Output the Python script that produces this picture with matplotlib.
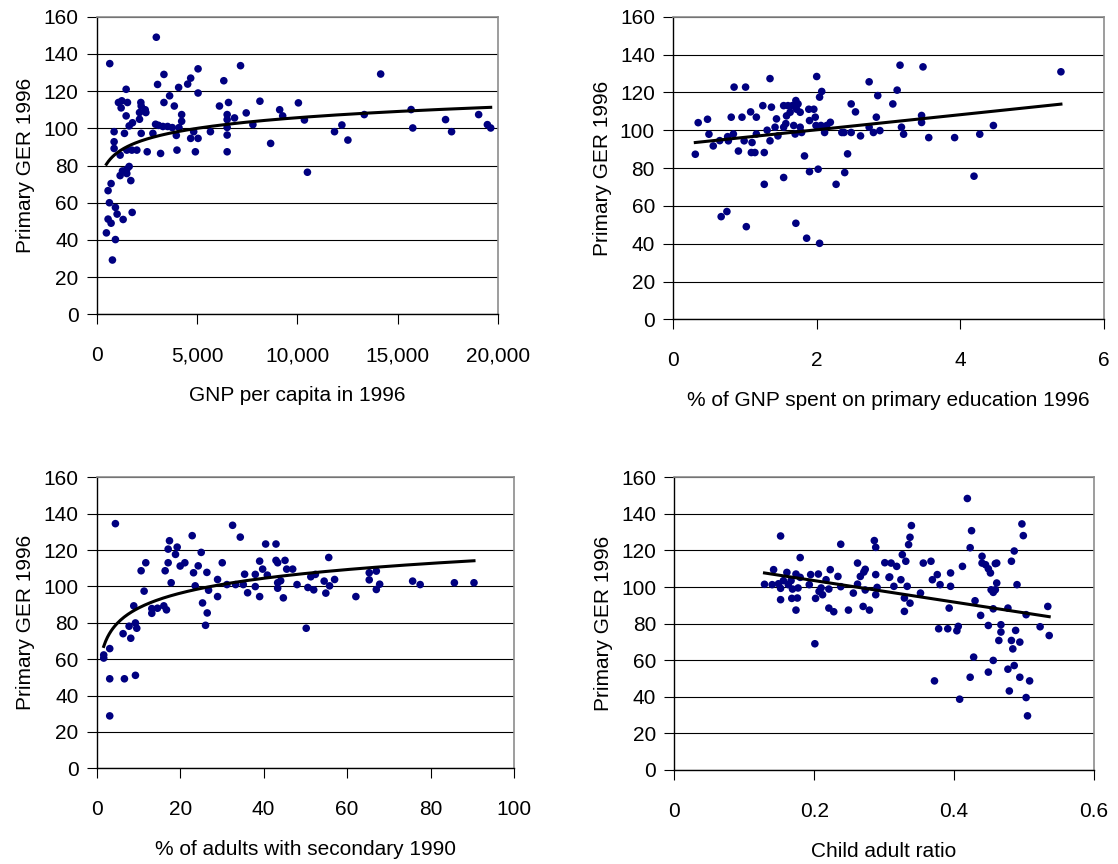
import numpy as np
import matplotlib
matplotlib.use("Agg")
from matplotlib import pyplot as plt
from matplotlib.ticker import FuncFormatter

plt.rcParams['font.family'] = ['Liberation Sans', 'DejaVu Sans']

# GNP per capita 1996 vs primary GER 1996
gnp_x = [2970, 650, 7167, 3350, 5050, 4683, 6333, 4533, 3033, 1467, 4083, 5050, 3633,
         1083, 1250, 1533, 2200, 3350, 3867, 1217, 6117, 6567, 8133, 9117, 10050, 2217,
         2417, 2133, 2450, 2133, 1467, 1783, 1617, 4233, 4233, 6500, 6500, 6867, 7450,
         9267, 7783, 2933, 3083, 3300, 3533, 3767, 3967, 4100, 4683, 5050, 4833, 5667,
         6500, 6500, 8667, 867, 1383, 2217, 2800, 867, 867, 1167, 1500, 1750, 2000, 2517,
         3183, 4000, 4917, 6500, 1167, 1283, 1500, 1617, 1500, 1700, 717, 567, 633, 933,
         1017, 1767, 1317, 567, 717, 483, 933, 783, 10350, 10500, 11850, 12217, 12517,
         13333, 14150, 15667, 15750, 17383, 17683, 19033, 19467, 19633]
gnp_y = [149, 134.8, 133.7, 129, 132, 127, 125.6, 123.8, 123.6, 121, 122, 119, 117.5,
         113.9, 114.8, 113.9, 113.9, 113.9, 112, 111, 112, 113.9, 114.6, 110, 113.7, 112,
         110, 108.5, 108.5, 104.9, 106.7, 103, 101.3, 107.4, 103.8, 107.4, 104.7, 105.6, 108.3,
         106.7, 102, 102.2, 101.6, 101, 101, 100.4, 96.2, 100.4, 94.6, 94.6, 98.2, 98.2,
         100.5, 96.4, 91.9, 98.2, 97.3, 97.3, 97.3, 92.8, 89.2, 85.6, 88.3, 88.3, 88.3, 87.4,
         86.5, 88.3, 87.4, 87.4, 74.6, 77.1, 78, 79.5, 75.7, 71.9, 70.3, 66.5, 60, 57.5,
         53.9, 54.8, 51, 51.2, 49, 43.8, 40.2, 29.2, 104.5, 76.4, 98.2, 101.8, 93.7,
         107.4, 129.2, 110.1, 100.2, 104.7, 98.2, 107.4, 102, 100.2]
gnp_trend = [80.7, 111.3]   # trendline value at first / last x

# % of GNP spent on primary education 1996
spend_x = [0.31, 0.35, 0.48, 0.50, 0.56, 0.65, 0.67, 0.75, 0.76, 0.77, 0.81, 0.84, 0.85,
           0.91, 0.96, 0.99, 1.01, 1.02, 1.08, 1.10, 1.09, 1.14, 1.16, 1.16, 1.25, 1.27,
           1.27, 1.31, 1.35, 1.35, 1.37, 1.42, 1.44, 1.46, 1.54, 1.54, 1.54, 1.57, 1.58,
           1.60, 1.63, 1.66, 1.68, 1.70, 1.71, 1.71, 1.72, 1.74, 1.77, 1.77, 1.79, 1.83,
           1.86, 1.89, 1.90, 1.90, 1.96, 1.98, 1.99, 2.00, 2.02, 2.04, 2.04, 2.07, 2.06,
           2.11, 2.14, 2.19, 2.27, 2.35, 2.38, 2.39, 2.43, 2.48, 2.48, 2.54, 2.61, 2.73,
           2.73, 2.79, 2.83, 2.85, 2.88, 3.06, 3.12, 3.16, 3.18, 3.21, 3.46, 3.46, 3.48,
           3.56, 3.92, 4.19, 4.27, 4.46, 5.40]
spend_y = [87.3, 104, 105.8, 97.9, 91.7, 94.5, 54.3, 57, 96.6, 94.4, 106.9, 98, 122.8,
           89, 106.9, 94.4, 122.8, 49, 109.7, 93.5, 88.2, 88.2, 106.9, 98, 113, 88.2,
           71.4, 100, 127.3, 94.4, 112.2, 101.6, 106, 97, 113, 101.6, 75, 103.5, 107.6,
           113, 109.5, 113, 102.5, 98, 50.8, 115.7, 111.1, 113.9, 109.5, 101.6, 98.8, 86.4,
           42.9, 111.1, 78.1, 105.1, 111.1, 106.9, 102.5, 128.4, 79.4, 40.2, 117.5, 120.5, 102.5,
           98.8, 102.5, 104.2, 71.4, 98.8, 98.8, 77.6, 87.5, 113.9, 98.8, 109.7, 97, 125.6,
           101.6, 98.8, 106.9, 118.3, 99.8, 113.9, 121.2, 134.4, 101.6, 97.9, 107.8, 104.1, 133.5,
           96.1, 96.1, 75.7, 97.9, 102.5, 130.9]
spend_trend = [93.5, 113.8]

# % of adults with secondary 1990
sec_x = [1.68, 1.68, 3.12, 3.12, 3.12, 4.48, 6.32, 6.64, 7.76, 8.16, 8.88, 9.28, 9.28,
         9.6, 10.64, 11.36, 11.76, 13.2, 13.2, 14.56, 16.08, 16.4, 16.72, 17.12, 17.12,
         17.44, 17.84, 18.88, 19.28, 20, 21.12, 22.88, 23.2, 23.6, 24.32, 25.04, 25.36,
         26.08, 26.4, 26.48, 26.8, 28.96, 28.96, 30.08, 31.2, 32.56, 33.28, 34.4, 35.12,
         35.44, 36.16, 38, 38, 39.04, 39.04, 39.76, 40.48, 40.88, 42.96, 42.96, 43.36,
         43.36, 43.36, 44.08, 44.72, 45.12, 45.52, 46.96, 48, 50.2, 50.6, 51.3, 52, 52.4,
         54.5, 54.9, 55.6, 55.8, 57, 62.1, 65.3, 65.3, 67, 67, 67.8, 75.7, 77.5, 85.7, 90.4]
sec_y = [62.3, 60.6, 65.8, 49.2, 28.8, 134.5, 74, 49.2, 78.1, 71.5, 89.3, 79.9, 51.1,
         77, 108.6, 97.4, 113, 87.8, 85.2, 88, 89.3, 108.6, 87.1, 113, 120.5,
         125.1, 102, 117.6, 121.6, 111.2, 113, 127.9, 107.5, 100.3, 111.3, 118.7, 90.9,
         78.6, 107.7, 85.4, 97.9, 103.8, 94.4, 113, 101, 133.6, 101, 127.1, 101,
         106.7, 96.5, 106.6, 99.9, 113.9, 94.4, 109.5, 123.3, 106.2, 123.3, 114.3, 113,
         102, 99, 103.1, 93.7, 114.3, 109.5, 109.5, 101, 77, 99.4, 105.3, 98.1, 106.6,
         102.9, 96.3, 115.9, 100.3, 103.8, 94.4, 107.5, 103.6, 108.4, 98.3, 101.2, 102.9, 101, 102, 102]
sec_trend = [67.0, 114.1]

# child adult ratio
ratio_x = [0.129, 0.140, 0.142, 0.149, 0.152, 0.152, 0.152, 0.156, 0.161, 0.163, 0.167,
           0.168, 0.169, 0.174, 0.174, 0.176, 0.177, 0.180, 0.180, 0.193, 0.195, 0.201,
           0.202, 0.206, 0.207, 0.210, 0.212, 0.217, 0.221, 0.221, 0.223, 0.228, 0.234,
           0.238, 0.238, 0.249, 0.256, 0.262, 0.262, 0.266, 0.270, 0.271, 0.273, 0.273,
           0.279, 0.286, 0.288, 0.288, 0.288, 0.290, 0.301, 0.307,
           0.310, 0.318, 0.308, 0.314, 0.324, 0.326, 0.329, 0.329, 0.331, 0.333, 0.335,
           0.337, 0.337, 0.339, 0.352, 0.356, 0.367, 0.369, 0.372, 0.376, 0.378, 0.380,
           0.391, 0.393, 0.395, 0.395, 0.404, 0.406, 0.408, 0.412, 0.419, 0.423, 0.423,
           0.425, 0.428, 0.430, 0.438, 0.440, 0.440, 0.445, 0.449, 0.449, 0.449, 0.452,
           0.453, 0.456, 0.456, 0.456, 0.459, 0.459, 0.461, 0.461, 0.464, 0.467, 0.467,
           0.477, 0.477, 0.479, 0.482, 0.482, 0.484, 0.486, 0.486, 0.488, 0.490, 0.494,
           0.494, 0.497, 0.499, 0.503, 0.503, 0.505, 0.508, 0.523, 0.534, 0.536]
ratio_y = [101.5, 101.3, 109.5, 101.8, 127.9, 99.3, 93.1, 103.5, 108, 101.3, 103.5,
           93.8, 98.9, 107.1, 87.4, 94, 99.5, 105.3, 116.1, 101.3, 106.8, 69,
           93.8, 107.1, 97.6, 99.5, 95.8, 104, 98.9, 88.5, 109.5, 86.5, 105.8,
           123.4, 100.2, 87.4, 96.7, 113.1, 101.6, 105.8, 89.4, 108.2, 109.7, 98.4,
           87.4, 125.4, 121.7, 106.8, 95.8, 99.8, 113.3, 105.3,
           113.1, 111.3, 105.5, 100.4, 104, 117.7, 94, 86.7, 114.1, 100.4, 123.2,
           127.2, 91.2, 133.6, 96.7, 113.1, 114.1, 104, 48.7, 106.8, 77.2, 101.3,
           77.2, 88.5, 107.7, 100.4, 76.1, 78.5, 38.7, 111.3, 148.4, 121.5, 50.7,
           130.8, 61.7, 92.5, 84.5, 116.8, 113.1, 112.2, 79, 53.5, 110, 107.7,
           98.5, 59.9, 88.1, 97.1, 98.5, 112.8, 113.1, 102.2, 70.8, 79.4, 75.4,
           88.5, 55.1, 43.2, 114.1, 70.8, 66.2, 119.7, 57.1, 76.3, 101.3, 69.9,
           50.7, 134.5, 128.1, 84.9, 39.6, 29.6, 48.7, 78.3, 89.4, 73.5]
ratio_trend = [107.7, 83.8]

y_label = "Primary GER 1996"
y_ticks = [0, 20, 40, 60, 80, 100, 120, 140, 160]

FS = 15
DOT = '#000080'


def draw_panel(fig, rect, x, y, trend, fit, xlim, xticks, xlabel, fmt):
    ax = fig.add_axes(rect)
    x = np.array(x, dtype=float)
    y = np.array(y, dtype=float)

    # horizontal gridlines only, like the excel chart
    ax.set_axisbelow(True)
    ax.yaxis.grid(True, color='black', linewidth=0.8)
    ax.xaxis.grid(False)

    ax.scatter(x, y, s=30, color=DOT, edgecolors='none', zorder=3)

    # trendline between the end values
    x0, x1 = x.min(), x.max()
    xs = np.linspace(x0, x1, 200)
    if fit == 'log':
        t = np.log(xs / x0) / np.log(x1 / x0)
    else:
        t = (xs - x0) / (x1 - x0)
    ys = trend[0] + (trend[1] - trend[0]) * t
    ax.plot(xs, ys, color='black', linewidth=2.2, zorder=4)

    ax.set_xlim(xlim)
    ax.set_ylim(0, 160)
    ax.set_xticks(xticks)
    ax.set_yticks(y_ticks)
    ax.xaxis.set_major_formatter(FuncFormatter(fmt))

    ax.tick_params(axis='both', direction='out', length=7, width=0.8, color='black',
                   labelsize=FS)
    ax.tick_params(axis='x', pad=16)
    ax.tick_params(axis='y', pad=6)

    for side in ['left', 'bottom']:
        ax.spines[side].set_color('black')
        ax.spines[side].set_linewidth(1.0)
    for side in ['top', 'right']:
        ax.spines[side].set_color('#8c8c8c')
        ax.spines[side].set_linewidth(1.2)

    ax.set_xlabel(xlabel, fontsize=FS, labelpad=15)
    ax.set_ylabel(y_label, fontsize=FS, labelpad=6)
    return ax


fig = plt.figure(figsize=(11.18, 8.64), dpi=100)

draw_panel(fig, [0.0865, 0.6362, 0.3590, 0.3444], gnp_x, gnp_y, gnp_trend, 'log',
           (0, 20000), [0, 5000, 10000, 15000, 20000], "GNP per capita in 1996",
           lambda v, p: "{:,.0f}".format(v))
draw_panel(fig, [0.6020, 0.6304, 0.3855, 0.3502], spend_x, spend_y, spend_trend, 'linear',
           (0, 6), [0, 2, 4, 6], "% of GNP spent on primary education 1996",
           lambda v, p: "{:g}".format(v))
draw_panel(fig, [0.0865, 0.1108, 0.3733, 0.3368], sec_x, sec_y, sec_trend, 'log',
           (0, 100), [0, 20, 40, 60, 80, 100], "% of adults with secondary 1990",
           lambda v, p: "{:g}".format(v))
draw_panel(fig, [0.6031, 0.1088, 0.3754, 0.3388], ratio_x, ratio_y, ratio_trend, 'linear',
           (0, 0.6), [0, 0.2, 0.4, 0.6], "Child adult ratio",
           lambda v, p: "{:g}".format(round(v, 1)))

fig.savefig("out.png", dpi=100, facecolor='white')
